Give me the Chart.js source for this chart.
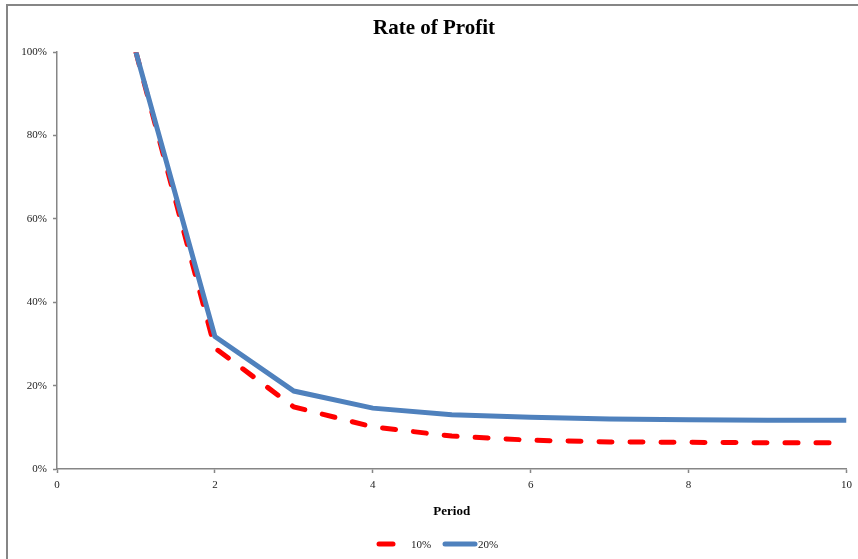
<!DOCTYPE html>
<html>
<head>
<meta charset="utf-8">
<script src="https://cdn.jsdelivr.net/npm/chart.js@4"></script>
<style>
  html, body { margin: 0; padding: 0; background: #fff; }
  #wrap { width: 858px; height: 559px; }
</style>
</head>
<body>
<div id="wrap"><canvas id="chart" width="858" height="559"></canvas></div>
<script>
const periods = [1, 2, 3, 4, 5, 6, 7, 8, 9, 10];
const rate10 = [1.00, 0.29, 0.149, 0.101, 0.079, 0.069, 0.065, 0.064, 0.063, 0.063];
const rate20 = [1.00, 0.318, 0.187, 0.146, 0.130, 0.124, 0.120, 0.118, 0.117, 0.117];
const seriesNames = ["10%", "20%"];

const axisGray = "#868686";
const serif = "'Liberation Serif', 'Times New Roman', serif";

const toPoints = vals => periods.map((p, i) => ({ x: p, y: vals[i] }));

// grey frame around the chart (cut off on the right and bottom)
const framePlugin = {
  id: "frame",
  beforeDraw(chart) {
    const ctx = chart.ctx;
    ctx.save();
    ctx.strokeStyle = axisGray;
    ctx.lineWidth = 2;
    ctx.strokeRect(7, 5, 900, 600);
    ctx.restore();
  }
};

// legend row under the axis title
const legendPlugin = {
  id: "bottomLegend",
  afterDraw(chart) {
    const ctx = chart.ctx;
    const ds = chart.data.datasets;
    const y = 544;
    const items = [
      { ds: ds[0], x1: 379, x2: 393, tx: 411 },
      { ds: ds[1], x1: 445, x2: 475, tx: 478 }
    ];
    ctx.save();
    items.forEach(it => {
      ctx.strokeStyle = it.ds.borderColor;
      ctx.lineWidth = 5;
      ctx.lineCap = "round";
      ctx.beginPath();
      ctx.moveTo(it.x1, y);
      ctx.lineTo(it.x2, y);
      ctx.stroke();
      ctx.fillStyle = "#222";
      ctx.font = "11px " + serif;
      ctx.textBaseline = "middle";
      ctx.fillText(it.ds.label, it.tx, y + 1);
    });
    ctx.restore();
  }
};

new Chart(document.getElementById("chart"), {
  type: "line",
  data: {
    datasets: [
      {
        label: seriesNames[0],
        data: toPoints(rate10),
        borderColor: "#ff0000",
        borderWidth: 5,
        borderDash: [13, 18],
        borderCapStyle: "round",
        pointRadius: 0,
        tension: 0,
        order: 2
      },
      {
        label: seriesNames[1],
        data: toPoints(rate20),
        borderColor: "#4f81bd",
        borderWidth: 5,
        pointRadius: 0,
        tension: 0,
        order: 1
      }
    ]
  },
  options: {
    responsive: false,
    animation: false,
    layout: { padding: { left: 19, right: 9, top: 0, bottom: 0 } },
    plugins: {
      legend: { display: false },
      tooltip: { enabled: false },
      title: {
        display: true,
        text: "Rate of Profit",
        color: "#000",
        font: { family: serif, size: 21, weight: "bold", lineHeight: 1.2 },
        padding: { top: 16, bottom: 11 }
      }
    },
    scales: {
      x: {
        type: "linear",
        min: 0,
        max: 10,
        ticks: { stepSize: 2, color: "#222", font: { family: serif, size: 11 }, padding: 6, maxRotation: 0 },
        grid: { drawOnChartArea: false, color: axisGray, tickLength: 4, tickWidth: 1.5 },
        border: { color: axisGray, width: 1.5 },
        title: {
          display: true,
          text: "Period",
          color: "#000",
          font: { family: serif, size: 13, weight: "bold", lineHeight: 1.2 },
          padding: { top: 0, bottom: 40 }
        },
        afterFit(scale) { scale.height = 90; }
      },
      y: {
        min: 0,
        max: 1,
        ticks: {
          stepSize: 0.2,
          color: "#222",
          font: { family: serif, size: 11 },
          padding: 6,
          callback: v => Math.round(v * 100) + "%"
        },
        grid: { drawOnChartArea: false, color: axisGray, tickLength: 4, tickWidth: 1.5 },
        border: { color: axisGray, width: 1.5 },
        afterFit(scale) { scale.width = 38; }
      }
    }
  },
  plugins: [framePlugin, legendPlugin]
});
</script>
</body>
</html>
